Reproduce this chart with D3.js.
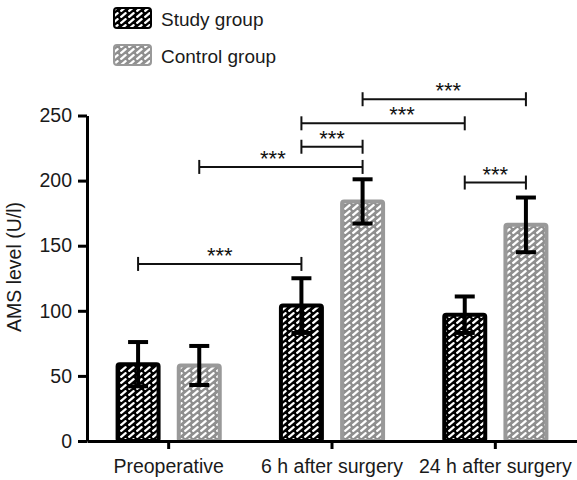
<!DOCTYPE html>
<html>
<head>
<meta charset="utf-8">
<script src="https://cdn.jsdelivr.net/npm/d3@7"></script>
<style>
  body { margin: 0; background: #fff; }
  svg { display: block; font-family: "Liberation Sans", Arial, Helvetica, sans-serif; }
</style>
</head>
<body>
<div id="chart"></div>
<script>
// data
const categories = ["Preoperative", "6 h after surgery", "24 h after surgery"];
const groups = ["Study group", "Control group"];
const studyMean = [59, 104, 97];
const studySD = [17, 21, 14];
const controlMean = [58, 184, 166];
const controlSD = [15, 17, 21];
const yTicks = [0, 50, 100, 150, 200, 250];

// significance brackets: [category, group] -> [category, group], height in U/l
const brackets = [
  { from: [0, 0], to: [1, 0], level: 136, label: "***" },
  { from: [0, 1], to: [1, 1], level: 210.5, label: "***" },
  { from: [1, 0], to: [1, 1], level: 226, label: "***" },
  { from: [1, 0], to: [2, 0], level: 244, label: "***" },
  { from: [1, 1], to: [2, 1], level: 262.5, label: "***" },
  { from: [2, 0], to: [2, 1], level: 198.5, label: "***" }
];
const starNudge = [0, -8, 0, 19, 4, 0];

const width = 577, height = 480;
const svg = d3.select("#chart").append("svg")
  .attr("width", width).attr("height", height);

// hatch patterns
const defs = svg.append("defs");
function hatch(id, bg) {
  const p = defs.append("pattern")
    .attr("id", id).attr("patternUnits", "userSpaceOnUse")
    .attr("width", 8).attr("height", 6);
  p.append("rect").attr("width", 8).attr("height", 6).attr("fill", bg);
  p.append("path").attr("d", "M1.2,4.8L5.6,1.2")
    .attr("stroke", "#fff").attr("stroke-width", 2.3).attr("stroke-linecap", "round");
}
hatch("hStudy", "#000");
hatch("hControl", "#8f8f8f");
const fills = ["url(#hStudy)", "url(#hControl)"];
const strokes = ["#000", "#999"];

const x = d3.scaleBand().domain(categories).range([87, 577]);
const xSub = d3.scaleBand().domain(groups).range([0, x.bandwidth()])
  .paddingInner(0.33).paddingOuter(0.5);
const y = d3.scaleLinear().domain([0, 250]).range([441, 115.5]);

const rows = categories.map((c, i) => [
  { cat: c, g: groups[0], gi: 0, mean: studyMean[i], sd: studySD[i] },
  { cat: c, g: groups[1], gi: 1, mean: controlMean[i], sd: controlSD[i] }
]);
const cx = (ci, gi) => x(categories[ci]) + xSub(groups[gi]) + xSub.bandwidth() / 2;

// bars
const bw = xSub.bandwidth();
svg.append("g").selectAll("rect")
  .data(rows.flat())
  .join("rect")
  .attr("x", d => x(d.cat) + xSub(d.g))
  .attr("y", d => y(d.mean))
  .attr("width", bw)
  .attr("height", d => y(0) - y(d.mean))
  .attr("rx", 2)
  .attr("fill", d => fills[d.gi])
  .attr("stroke", d => strokes[d.gi])
  .attr("stroke-width", 4);

// error bars
const eb = svg.append("g").attr("stroke", "#000").attr("stroke-width", 4);
rows.flat().forEach(d => {
  const c = x(d.cat) + xSub(d.g) + bw / 2;
  const lo = y(d.mean - d.sd), hi = y(d.mean + d.sd);
  eb.append("line").attr("x1", c).attr("x2", c).attr("y1", lo).attr("y2", hi);
  eb.append("line").attr("x1", c - 10).attr("x2", c + 10).attr("y1", hi).attr("y2", hi);
  eb.append("line").attr("x1", c - 10).attr("x2", c + 10).attr("y1", lo).attr("y2", lo);
});

// axes
const yAxis = svg.append("g")
  .attr("transform", "translate(87,0)")
  .call(d3.axisLeft(y).tickValues(yTicks).tickSize(9).tickSizeOuter(0).tickPadding(6));
const xAxis = svg.append("g")
  .attr("transform", "translate(0,441)")
  .call(d3.axisBottom(x).tickSizeInner(8).tickSizeOuter(0).tickPadding(10));
[yAxis, xAxis].forEach(a => {
  a.select(".domain").attr("stroke-width", 3);
  a.selectAll(".tick line").attr("stroke-width", 3);
  a.selectAll("text").attr("font-size", 19.5).attr("fill", "#1a1a1a")
    .attr("font-family", "'Liberation Sans', Arial, sans-serif");
});

svg.append("text")
  .attr("transform", "translate(21,267) rotate(-90)")
  .attr("text-anchor", "middle")
  .attr("font-size", 19.5).attr("fill", "#1a1a1a")
  .text("AMS level (U/l)");

// brackets
const br = svg.append("g");
brackets.forEach((b, i) => {
  const x1 = cx(b.from[0], b.from[1]), x2 = cx(b.to[0], b.to[1]);
  const yy = y(b.level);
  const g = br.append("g").attr("stroke", "#111").attr("stroke-width", 2);
  g.append("line").attr("x1", x1).attr("x2", x2).attr("y1", yy).attr("y2", yy);
  g.append("line").attr("x1", x1).attr("x2", x1).attr("y1", yy - 7).attr("y2", yy + 7);
  g.append("line").attr("x1", x2).attr("x2", x2).attr("y1", yy - 7).attr("y2", yy + 7);
  br.append("text")
    .attr("x", (x1 + x2) / 2 + starNudge[i]).attr("y", yy - 1)
    .attr("text-anchor", "middle").attr("font-size", 22).attr("fill", "#111")
    .text(b.label);
});

// legend
const leg = svg.append("g");
groups.forEach((gname, i) => {
  const ly = 8 + i * 37;
  leg.append("rect").attr("x", 114).attr("y", ly).attr("width", 37).attr("height", 20)
    .attr("rx", 3).attr("fill", fills[i]).attr("stroke", strokes[i]).attr("stroke-width", 2);
  leg.append("text").attr("x", 161).attr("y", ly + 18)
    .attr("font-size", 19).attr("fill", "#1a1a1a").text(gname);
});
</script>
</body>
</html>
